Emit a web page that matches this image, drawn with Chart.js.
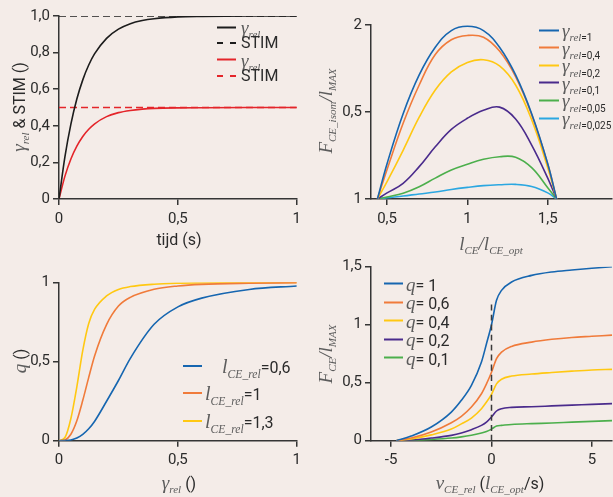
<!doctype html>
<html>
<head>
<meta charset="UTF-8">
<title>Spiermodel</title>
<script src="https://cdn.jsdelivr.net/npm/chart.js"></script>
<style>
  body { margin: 0; background: #f4ece8; }
  #wrap { position: relative; width: 613px; height: 497px; overflow: hidden;
          font-family: Roboto, sans-serif; color: #2b2b2b; }
  canvas { position: absolute; }
  .t { position: absolute; white-space: nowrap; line-height: 1; }
  .rot { transform: translate(-50%, -50%) rotate(-90deg); }
  .ctr { transform: translate(-50%, -50%); }
  .m { font-family: "Liberation Serif", "DejaVu Serif", serif; font-style: italic; color: #5c5c5c; }
  .m sub { font-size: 0.58em; vertical-align: -0.4em; line-height: 0; }
  .s { font-family: Roboto, sans-serif; font-style: normal; color: #2b2b2b; }
  .row { position: absolute; display: flex; align-items: center; white-space: nowrap;
         transform: translateY(-50%); line-height: 1; }
  .row svg { flex: none; }
</style>
</head>
<body>
<div id="wrap">
  <canvas id="c1" width="306" height="250" style="left:0;top:0"></canvas>
  <canvas id="c2" width="307" height="250" style="left:306px;top:0"></canvas>
  <canvas id="c3" width="306" height="247" style="left:0;top:250px"></canvas>
  <canvas id="c4" width="307" height="247" style="left:306px;top:250px"></canvas>

  <div class="t ctr" style="left:179px;top:240px;font-size:16px">tijd (s)</div>
  <div class="t rot" style="left:18px;top:107px;font-size:16px"><span class="m" style="font-size:19px">γ<sub>rel</sub></span> &amp; STIM ()</div>

  <div class="t ctr" style="left:491px;top:243px"><span class="m" style="font-size:19px">l<sub>CE</sub>/l<sub>CE_opt</sub></span></div>
  <div class="t rot" style="left:325px;top:111px"><span class="m" style="font-size:19px">F<sub>CE_isom</sub>/l<sub>MAX</sub></span></div>

  <div class="t ctr" style="left:179px;top:482px;font-size:16px"><span class="m" style="font-size:19px">γ<sub>rel</sub></span> ()</div>
  <div class="t rot" style="left:19px;top:361px;font-size:16px"><span class="m" style="font-size:19px">q</span> ()</div>

  <div class="t ctr" style="left:490px;top:482px;font-size:16px"><span class="m" style="font-size:19px">ν<sub>CE_rel</sub></span> (<span class="m" style="font-size:19px">l<sub>CE_opt</sub></span>/s)</div>
  <div class="t rot" style="left:325px;top:354px"><span class="m" style="font-size:19px">F<sub>CE</sub>/l<sub>MAX</sub></span></div>
</div>

<script>
// ---- top left: activatie over tijd
const timeS = [0, 0.025, 0.05, 0.075, 0.1, 0.125, 0.15, 0.2, 0.25, 0.3, 0.35, 0.4, 0.5, 0.6, 0.8, 1.0];
const gammaStim1 = [0, 0.231, 0.409, 0.546, 0.651, 0.732, 0.794, 0.878, 0.928, 0.958, 0.975, 0.985, 0.995, 0.998, 1.0, 1.0];
const gammaStim05 = [0, 0.125, 0.219, 0.289, 0.342, 0.381, 0.411, 0.450, 0.472, 0.484, 0.491, 0.495, 0.498, 0.499, 0.5, 0.5];
const stimTime = [0, 1];
const stim1 = [1, 1];
const stim05 = [0.5, 0.5];
const tlXTicks = [0, 0.5, 1];
const tlXLabels = ['0', '0,5', '1'];
const tlYTicks = [0, 0.2, 0.4, 0.6, 0.8, 1.0];
const tlYLabels = ['0', '0,2', '0,4', '0,6', '0,8', '1,0'];

// ---- top right: isometrische kracht-lengte
const lenRel = [0.44, 0.5, 0.6, 0.7, 0.8, 0.9, 1.0, 1.1, 1.2, 1.3, 1.4, 1.5, 1.555];
const fIsom1 = [0, 0.203, 0.49, 0.713, 0.872, 0.968, 0.993, 0.968, 0.872, 0.713, 0.49, 0.203, 0];
const fIsom04 = [0, 0.17, 0.435, 0.655, 0.83, 0.915, 0.94, 0.93, 0.85, 0.703, 0.485, 0.2, 0];
const fIsom02 = [0, 0.1, 0.28, 0.47, 0.626, 0.73, 0.785, 0.80, 0.765, 0.655, 0.455, 0.18, 0];
const fIsom01 = [0, 0.035, 0.09, 0.186, 0.30, 0.40, 0.464, 0.51, 0.528, 0.46, 0.31, 0.12, 0];
const fIsom005 = [0, 0.012, 0.033, 0.07, 0.12, 0.167, 0.20, 0.228, 0.243, 0.24, 0.18, 0.065, 0];
const fIsom0025 = [0, 0.007, 0.017, 0.029, 0.04, 0.055, 0.067, 0.077, 0.082, 0.084, 0.072, 0.035, 0];
const trXTicks = [0.5, 1, 1.5];
const trXLabels = ['0,5', '1', '1,5'];
const trYTicks = [0, 0.5, 1];
const trYLabels = ['1', '0,5', '2'];

// ---- bottom left: q als functie van gamma
const gammaRel = [0, 0.025, 0.05, 0.075, 0.1, 0.125, 0.15, 0.2, 0.25, 0.3, 0.4, 0.5, 0.6, 0.8, 1.0];
const qL06 = [0, 0.001, 0.005, 0.017, 0.04, 0.075, 0.123, 0.249, 0.38, 0.52, 0.735, 0.845, 0.90, 0.955, 0.977];
const qL1 = [0, 0.005, 0.041, 0.126, 0.255, 0.40, 0.537, 0.733, 0.85, 0.905, 0.956, 0.977, 0.987, 0.994, 0.997];
const qL13 = [0, 0.02, 0.14, 0.34, 0.57, 0.74, 0.83, 0.914, 0.955, 0.973, 0.988, 0.994, 0.996, 0.998, 0.999];
const blXTicks = [0, 0.5, 1];
const blXLabels = ['0', '0,5', '1'];
const blYTicks = [0, 0.5, 1];
const blYLabels = ['0', '0,5', '1'];

// ---- bottom right: kracht-snelheid
const velRel = [-4.75, -4, -3, -2, -1.5, -1, -0.5, -0.25, 0, 0.25, 0.5, 1, 2, 3, 4, 5, 6];
const fQ1 = [0, 0.04, 0.118, 0.247, 0.348, 0.477, 0.678, 0.836, 1.0, 1.21, 1.296, 1.368, 1.425, 1.455, 1.472, 1.487, 1.5];
const fQ06 = [0, 0.023, 0.075, 0.155, 0.21, 0.29, 0.405, 0.49, 0.59, 0.707, 0.764, 0.813, 0.85, 0.874, 0.89, 0.90, 0.91];
const fQ04 = [0, 0.015, 0.05, 0.10, 0.145, 0.195, 0.276, 0.333, 0.40, 0.49, 0.53, 0.557, 0.575, 0.588, 0.60, 0.61, 0.615];
const fQ02 = [0, 0.006, 0.023, 0.046, 0.066, 0.095, 0.132, 0.16, 0.204, 0.256, 0.276, 0.287, 0.293, 0.30, 0.307, 0.313, 0.32];
const fQ01 = [0, 0.003, 0.011, 0.023, 0.033, 0.047, 0.066, 0.08, 0.10, 0.127, 0.132, 0.14, 0.147, 0.152, 0.16, 0.167, 0.173];
const zeroVel = [0, 0];
const zeroVelF = [0, 1.2];
const brXTicks = [-5, 0, 5];
const brXLabels = ['-5', '0', '5'];
const brYTicks = [0, 0.5, 1, 1.5];
const brYLabels = ['0', '0,5', '1', '1,5'];

const BLUE = '#1666b0', ORANGE = '#f07b3b', YELLOW = '#ffc812', PURPLE = '#4a2b8c',
      GREEN = '#4caf4c', CYAN = '#2ba7e1', BLACK = '#1c1c1c', RED = '#e4252a', AXIS = '#353535';

const pts = (xs, ys) => xs.map((x, i) => ({ x, y: ys[i] }));

function line(label, xs, ys, color, opts = {}) {
  return Object.assign({
    label, data: pts(xs, ys), borderColor: color, borderWidth: 1.6,
    pointRadius: 0, fill: false, cubicInterpolationMode: 'monotone'
  }, opts);
}

function axis(min, max, ticks, labels, fit, horizontal) {
  return {
    type: 'linear', min, max,
    afterBuildTicks: (s) => { s.ticks = ticks.map((v) => ({ value: v })); },
    afterFit: (s) => { if (horizontal) s.height = fit; else s.width = fit; },
    ticks: {
      callback: (v, i) => labels[i],
      color: '#2b2b2b', padding: horizontal ? 5 : 3,
      font: { family: 'Roboto', size: 15 }, maxRotation: 0, autoSkip: false
    },
    grid: { display: true, drawOnChartArea: false, drawTicks: true, tickLength: 6, color: AXIS, lineWidth: 1.5 },
    border: { display: true, color: AXIS, width: 1.5 }
  };
}

function makeChart(id, datasets, x, y, padding) {
  return new Chart(document.getElementById(id), {
    type: 'line',
    data: { datasets },
    options: {
      responsive: false, animation: false, devicePixelRatio: 1,
      layout: { padding },
      plugins: { legend: { display: false }, tooltip: { enabled: false } },
      scales: { x, y }
    }
  });
}

makeChart('c1', [
  line('γrel', timeS, gammaStim1, BLACK),
  line('STIM', stimTime, stim1, BLACK, { borderDash: [7, 4] }),
  line('γrel', timeS, gammaStim05, RED),
  line('STIM', stimTime, stim05, RED, { borderDash: [7, 4] })
], axis(0, 1, tlXTicks, tlXLabels, 51, true), axis(0, 1, tlYTicks, tlYLabels, 59, false),
{ left: 0, top: 16, right: 7, bottom: 0 });

makeChart('c2', [
  line('γrel=1', lenRel, fIsom1, BLUE, { cubicInterpolationMode: 'default', tension: 0.4 }),
  line('γrel=0,4', lenRel, fIsom04, ORANGE, { cubicInterpolationMode: 'default', tension: 0.4 }),
  line('γrel=0,2', lenRel, fIsom02, YELLOW, { cubicInterpolationMode: 'default', tension: 0.4 }),
  line('γrel=0,1', lenRel, fIsom01, PURPLE, { cubicInterpolationMode: 'default', tension: 0.4 }),
  line('γrel=0,05', lenRel, fIsom005, GREEN, { cubicInterpolationMode: 'default', tension: 0.4 }),
  line('γrel=0,025', lenRel, fIsom0025, CYAN, { cubicInterpolationMode: 'default', tension: 0.4 })
], axis(0.4, 1.9, trXTicks, trXLabels, 51, true), axis(0, 1, trYTicks, trYLabels, 65, false),
{ left: 0, top: 25, right: 1, bottom: 0 });

makeChart('c3', [
  line('lCE_rel=0,6', gammaRel, qL06, BLUE),
  line('lCE_rel=1', gammaRel, qL1, ORANGE),
  line('lCE_rel=1,3', gammaRel, qL13, YELLOW)
], axis(0, 1, blXTicks, blXLabels, 56.3, true), axis(0, 1, blYTicks, blYLabels, 59, false),
{ left: 0, top: 32.3, right: 7, bottom: 0 });

makeChart('c4', [
  line('v=0', zeroVel, zeroVelF, '#3a3a3a', { borderDash: [6, 4], borderWidth: 1.5 }),
  line('q=1', velRel, fQ1, BLUE),
  line('q=0,6', velRel, fQ06, ORANGE),
  line('q=0,4', velRel, fQ04, YELLOW),
  line('q=0,2', velRel, fQ02, PURPLE),
  line('q=0,1', velRel, fQ01, GREEN)
], axis(-6, 6, brXTicks, brXLabels, 56.3, true), axis(0, 1.5, brYTicks, brYLabels, 65, false),
{ left: 0, top: 16.7, right: 1, bottom: 0 });

// ---- legends (html, so the subscripts stay real text)
function legend(x, y, step, lineW, gap, items) {
  const wrap = document.getElementById('wrap');
  items.forEach((it, i) => {
    const row = document.createElement('div');
    row.className = 'row';
    row.style.left = x + 'px';
    row.style.top = (y + i * step) + 'px';
    const dash = it.dash ? ` stroke-dasharray="6,7"` : '';
    row.innerHTML = `<svg width="${lineW}" height="4"><line x1="0" y1="2" x2="${lineW}" y2="2" stroke="${it.color}" stroke-width="2"${dash}/></svg>` +
      `<span style="margin-left:${it.gap ?? gap}px">${it.html}</span>`;
    wrap.appendChild(row);
  });
}

const G = (sub) => `<span class="m" style="font-size:19px">γ<sub>${sub}</sub></span>`;

legend(217, 27, 16.3, 19, 5, [
  { color: BLACK, html: G('rel') },
  { color: BLACK, dash: true, html: '<span class="s" style="font-size:16px">STIM</span>' },
  { color: RED, html: G('rel') },
  { color: RED, dash: true, html: '<span class="s" style="font-size:16px">STIM</span>' }
]);

const GR = (val) => `<span class="m" style="font-size:19px">γ<sub>rel<span class="s" style="font-size:10px">=${val}</span></sub></span>`;
legend(539, 30, 17.6, 20, 3, [
  { color: BLUE, html: GR('1') },
  { color: ORANGE, html: GR('0,4') },
  { color: YELLOW, html: GR('0,2') },
  { color: PURPLE, html: GR('0,1') },
  { color: GREEN, html: GR('0,05') },
  { color: CYAN, html: GR('0,025') }
]);

const LR = (val) => `<span class="m" style="font-size:20px">l<sub>CE_rel</sub></span><span class="s" style="font-size:16px">=${val}</span>`;
legend(183, 366, 27.3, 19, 3, [
  { color: BLUE, gap: 20, html: LR('0,6') },
  { color: ORANGE, html: LR('1') },
  { color: YELLOW, html: LR('1,3') }
]);

const QR = (val) => `<span class="m" style="font-size:19px">q</span><span class="s" style="font-size:16px">= ${val}</span>`;
legend(384, 283.5, 18.6, 19, 3, [
  { color: BLUE, html: QR('1') },
  { color: ORANGE, html: QR('0,6') },
  { color: YELLOW, html: QR('0,4') },
  { color: PURPLE, html: QR('0,2') },
  { color: GREEN, html: QR('0,1') }
]);
</script>
</body>
</html>
